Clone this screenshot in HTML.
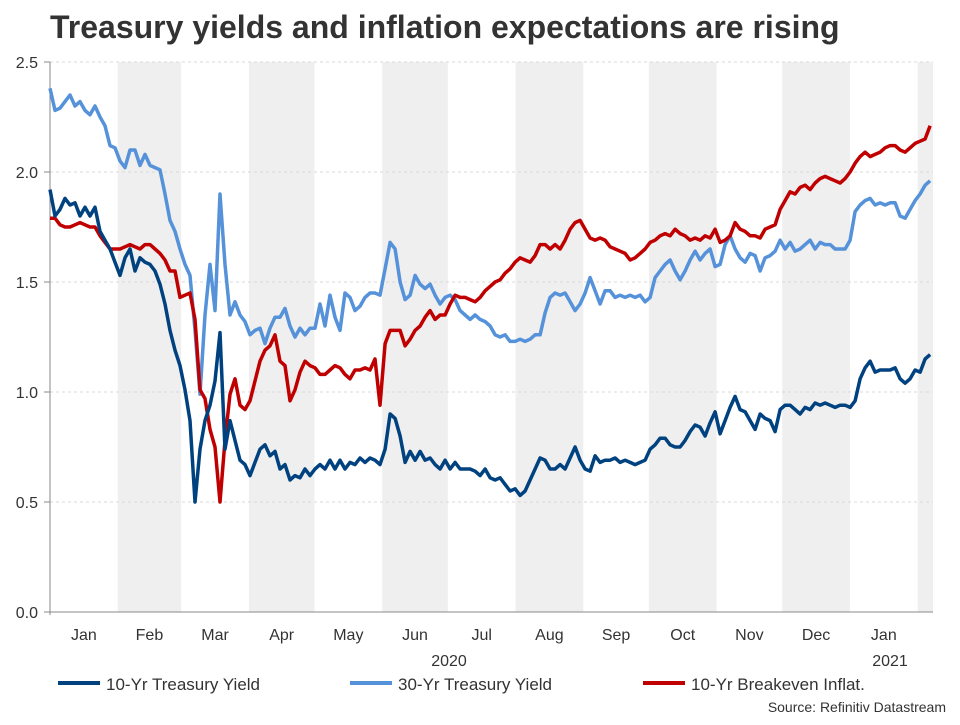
<!DOCTYPE html>
<html><head><meta charset="utf-8"><style>
body{margin:0;background:#fff;font-family:"Liberation Sans",sans-serif;}
svg text{font-family:"Liberation Sans",sans-serif;}
</style></head><body>
<svg id="chart" width="960" height="720" xmlns="http://www.w3.org/2000/svg">
<text x="50" y="38" font-size="32" font-weight="bold" fill="#333">Treasury yields and inflation expectations are rising</text>
<g id="bands"></g><g id="grid"></g><g id="axes"></g><g id="lines"></g>
<g>
<g><line x1="58" y1="683" x2="100" y2="683" stroke="#00427f" stroke-width="4"/><text x="106" y="690" font-size="17" fill="#333">10-Yr Treasury Yield</text></g>
<g><line x1="350" y1="683" x2="392" y2="683" stroke="#5592d9" stroke-width="4"/><text x="398" y="690" font-size="17" fill="#333">30-Yr Treasury Yield</text></g>
<g><line x1="643" y1="683" x2="685" y2="683" stroke="#c00000" stroke-width="4"/><text x="691" y="690" font-size="17" fill="#333">10-Yr Breakeven Inflat.</text></g>
</g>
<text x="946" y="712" font-size="14" fill="#333" text-anchor="end">Source: Refinitiv Datastream</text>
</svg>
<script>
const monthStarts=[0,31,60,91,121,152,182,213,244,274,305,335,366,397];
const monthLabels=["Jan","Feb","Mar","Apr","May","Jun","Jul","Aug","Sep","Oct","Nov","Dec","Jan","Feb"];
const yearLabels=["2020","2021"];
const yTicks=[0,0.5,1,1.5,2,2.5];
const stepDays=2.288;
const tenYr=[1.92,1.80,1.83,1.88,1.85,1.86,1.80,1.84,1.80,1.84,1.73,1.69,1.65,1.59,1.53,1.61,1.65,1.55,1.61,1.59,1.58,1.55,1.49,1.40,1.28,1.19,1.12,1.01,0.87,0.50,0.74,0.87,0.94,1.05,1.27,0.74,0.87,0.78,0.69,0.67,0.62,0.68,0.74,0.76,0.71,0.73,0.65,0.67,0.60,0.62,0.61,0.65,0.62,0.65,0.67,0.65,0.69,0.65,0.69,0.65,0.68,0.67,0.70,0.68,0.70,0.69,0.67,0.74,0.90,0.88,0.80,0.68,0.73,0.69,0.73,0.69,0.70,0.67,0.65,0.69,0.65,0.68,0.65,0.65,0.65,0.64,0.62,0.65,0.61,0.60,0.61,0.58,0.55,0.56,0.53,0.55,0.60,0.65,0.70,0.69,0.65,0.65,0.67,0.65,0.70,0.75,0.69,0.65,0.64,0.71,0.68,0.69,0.69,0.70,0.68,0.69,0.68,0.67,0.68,0.69,0.74,0.76,0.79,0.79,0.76,0.75,0.75,0.78,0.82,0.85,0.84,0.80,0.86,0.91,0.81,0.87,0.93,0.98,0.92,0.91,0.87,0.83,0.90,0.88,0.87,0.82,0.92,0.94,0.94,0.92,0.90,0.93,0.92,0.95,0.94,0.95,0.94,0.93,0.94,0.94,0.93,0.96,1.06,1.11,1.14,1.09,1.10,1.10,1.10,1.11,1.06,1.04,1.06,1.10,1.09,1.15,1.17];
const thirtyYr=[2.38,2.28,2.29,2.32,2.35,2.30,2.32,2.28,2.26,2.30,2.25,2.21,2.12,2.11,2.05,2.02,2.10,2.10,2.03,2.08,2.03,2.02,2.01,1.90,1.78,1.73,1.65,1.58,1.53,1.28,0.99,1.35,1.58,1.37,1.90,1.58,1.35,1.41,1.35,1.32,1.26,1.28,1.29,1.22,1.29,1.34,1.34,1.38,1.30,1.25,1.29,1.26,1.29,1.29,1.40,1.30,1.44,1.34,1.28,1.45,1.43,1.37,1.39,1.43,1.45,1.45,1.44,1.56,1.68,1.65,1.50,1.42,1.44,1.53,1.49,1.47,1.49,1.44,1.40,1.43,1.44,1.42,1.37,1.35,1.33,1.35,1.33,1.32,1.30,1.26,1.25,1.26,1.23,1.23,1.24,1.23,1.24,1.26,1.26,1.36,1.43,1.45,1.44,1.45,1.41,1.37,1.40,1.45,1.52,1.46,1.40,1.46,1.46,1.43,1.44,1.43,1.44,1.43,1.44,1.41,1.43,1.52,1.55,1.58,1.60,1.55,1.51,1.55,1.60,1.64,1.60,1.63,1.65,1.57,1.58,1.67,1.71,1.65,1.61,1.59,1.63,1.62,1.55,1.61,1.62,1.64,1.69,1.65,1.68,1.64,1.65,1.67,1.69,1.65,1.68,1.67,1.67,1.65,1.65,1.65,1.69,1.82,1.85,1.87,1.88,1.85,1.86,1.85,1.86,1.86,1.80,1.79,1.83,1.87,1.90,1.94,1.96];
const breakeven=[1.79,1.79,1.76,1.75,1.75,1.76,1.77,1.76,1.75,1.75,1.71,1.68,1.65,1.65,1.65,1.66,1.67,1.66,1.65,1.67,1.67,1.65,1.63,1.60,1.55,1.55,1.43,1.44,1.45,1.33,1.01,0.97,0.83,0.75,0.50,0.78,0.99,1.06,0.94,0.92,0.96,1.05,1.14,1.19,1.21,1.26,1.14,1.12,0.96,1.01,1.09,1.14,1.12,1.11,1.08,1.08,1.10,1.12,1.11,1.08,1.06,1.10,1.10,1.11,1.10,1.15,0.94,1.22,1.28,1.28,1.28,1.21,1.24,1.28,1.30,1.34,1.37,1.33,1.35,1.35,1.40,1.44,1.43,1.43,1.42,1.41,1.43,1.46,1.48,1.50,1.51,1.54,1.56,1.59,1.61,1.60,1.59,1.62,1.67,1.67,1.65,1.67,1.65,1.69,1.74,1.77,1.78,1.74,1.70,1.69,1.70,1.69,1.66,1.65,1.64,1.63,1.60,1.61,1.63,1.65,1.68,1.69,1.71,1.72,1.71,1.74,1.72,1.71,1.69,1.70,1.69,1.71,1.70,1.74,1.68,1.69,1.71,1.77,1.74,1.73,1.71,1.71,1.70,1.74,1.75,1.76,1.83,1.87,1.91,1.90,1.93,1.94,1.92,1.95,1.97,1.98,1.97,1.96,1.95,1.97,2.00,2.04,2.07,2.09,2.07,2.08,2.09,2.11,2.12,2.12,2.10,2.09,2.11,2.13,2.14,2.15,2.21];

const NS="http://www.w3.org/2000/svg";
const X0=50,X1=933,Y0=612,Y1=62,DMAX=404;
function xs(d){return X0+(d/DMAX)*(X1-X0);}
function ys(v){return Y0-(v/2.5)*(Y0-Y1);}
function mk(tag,attrs,parent){const e=document.createElementNS(NS,tag);for(const k in attrs)e.setAttribute(k,attrs[k]);parent.appendChild(e);return e;}
const bands=document.getElementById('bands'),grid=document.getElementById('grid'),axes=document.getElementById('axes'),lines=document.getElementById('lines');
for(let i=0;i<monthStarts.length;i++){
  const a=xs(monthStarts[i]);const b=i+1<monthStarts.length?xs(monthStarts[i+1]):X1;const bb=Math.min(b,X1);
  if(i%2===1){const r=mk('rect',{x:a,y:Y1,width:bb-a,height:Y0-Y1,fill:'#efefef'},bands);
    
    }
  if(i<monthStarts.length-1){const t=mk('text',{x:(a+bb)/2,y:640,'font-size':16,fill:'#333','text-anchor':'middle'},axes);t.textContent=monthLabels[i];
    
    }
}
[[yearLabels[0],449],[yearLabels[1],890]].forEach(p=>{const t=mk('text',{x:p[1],y:666,'font-size':16,fill:'#333','text-anchor':'middle'},axes);t.textContent=p[0];
  
  });
yTicks.forEach(v=>{const y=ys(v);
  if(v>0){const g=mk('line',{x1:X0,x2:X1,y1:y,y2:y,stroke:'#d8d8d8','stroke-dasharray':'3,3','stroke-width':1},grid);
    
    }
  mk('line',{x1:X0-6,x2:X0,y1:y,y2:y,stroke:'#888'},axes);
  const t=mk('text',{x:X0-12,y:y+6,'font-size':16,fill:'#333','text-anchor':'end'},axes);t.textContent=v.toFixed(1);
  
  });
const ya=mk('line',{x1:X0,x2:X0,y1:Y1,y2:Y0+3,stroke:'#888'},axes);


const xa=mk('line',{x1:X0,x2:X1,y1:Y0,y2:Y0,stroke:'#888'},axes);


function draw(arr,color,name){
  const d=arr.map((v,i)=>(i?'L':'M')+xs(i*stepDays).toFixed(1)+','+ys(v).toFixed(1)).join('');
  const p=mk('path',{d:d,fill:'none',stroke:color,'stroke-width':3.5,'stroke-linejoin':'round'},lines);
  
  
}
draw(thirtyYr,'#5592d9','line-30yr-yield');
draw(breakeven,'#c00000','line-10yr-breakeven');
draw(tenYr,'#00427f','line-10yr-yield');
</script>
</body></html>
